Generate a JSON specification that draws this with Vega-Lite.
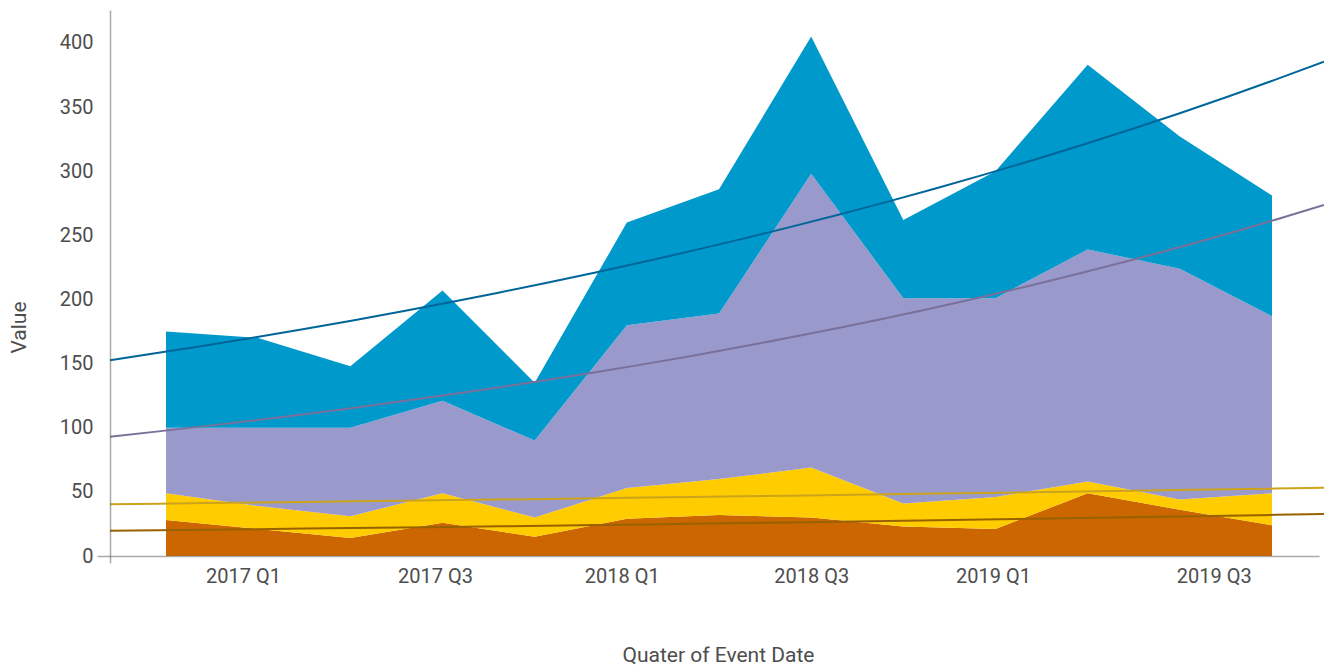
{
  "$schema": "https://vega.github.io/schema/vega-lite/v6.json",
  "width": 1209,
  "height": 546,
  "autosize": {"type": "none"},
  "padding": {"left": 110, "top": 10, "right": 5, "bottom": 116},
  "background": "white",
  "config": {
    "view": {"stroke": null},
    "font": "Roboto",
    "axis": {
      "labelFont": "Roboto",
      "titleFont": "Roboto",
      "labelFontSize": 20,
      "titleFontSize": 21,
      "labelColor": "#4d4d4d",
      "titleColor": "#4d4d4d",
      "titleFontWeight": "normal",
      "grid": false
    }
  },
  "data": {
    "values": [
      {"q": 0, "quarter": "2016 Q4", "series": "S1", "value": 28},
      {"q": 1, "quarter": "2017 Q1", "series": "S1", "value": 21},
      {"q": 2, "quarter": "2017 Q2", "series": "S1", "value": 14},
      {"q": 3, "quarter": "2017 Q3", "series": "S1", "value": 26},
      {"q": 4, "quarter": "2017 Q4", "series": "S1", "value": 15},
      {"q": 5, "quarter": "2018 Q1", "series": "S1", "value": 29},
      {"q": 6, "quarter": "2018 Q2", "series": "S1", "value": 32},
      {"q": 7, "quarter": "2018 Q3", "series": "S1", "value": 30},
      {"q": 8, "quarter": "2018 Q4", "series": "S1", "value": 23},
      {"q": 9, "quarter": "2019 Q1", "series": "S1", "value": 21},
      {"q": 10, "quarter": "2019 Q2", "series": "S1", "value": 49},
      {"q": 11, "quarter": "2019 Q3", "series": "S1", "value": 36},
      {"q": 12, "quarter": "2019 Q4", "series": "S1", "value": 24},
      {"q": 0, "quarter": "2016 Q4", "series": "S2", "value": 21},
      {"q": 1, "quarter": "2017 Q1", "series": "S2", "value": 18},
      {"q": 2, "quarter": "2017 Q2", "series": "S2", "value": 17},
      {"q": 3, "quarter": "2017 Q3", "series": "S2", "value": 23},
      {"q": 4, "quarter": "2017 Q4", "series": "S2", "value": 15},
      {"q": 5, "quarter": "2018 Q1", "series": "S2", "value": 24},
      {"q": 6, "quarter": "2018 Q2", "series": "S2", "value": 28},
      {"q": 7, "quarter": "2018 Q3", "series": "S2", "value": 39},
      {"q": 8, "quarter": "2018 Q4", "series": "S2", "value": 18},
      {"q": 9, "quarter": "2019 Q1", "series": "S2", "value": 25},
      {"q": 10, "quarter": "2019 Q2", "series": "S2", "value": 9},
      {"q": 11, "quarter": "2019 Q3", "series": "S2", "value": 8},
      {"q": 12, "quarter": "2019 Q4", "series": "S2", "value": 25},
      {"q": 0, "quarter": "2016 Q4", "series": "S3", "value": 51},
      {"q": 1, "quarter": "2017 Q1", "series": "S3", "value": 61},
      {"q": 2, "quarter": "2017 Q2", "series": "S3", "value": 69},
      {"q": 3, "quarter": "2017 Q3", "series": "S3", "value": 72},
      {"q": 4, "quarter": "2017 Q4", "series": "S3", "value": 60},
      {"q": 5, "quarter": "2018 Q1", "series": "S3", "value": 127},
      {"q": 6, "quarter": "2018 Q2", "series": "S3", "value": 129},
      {"q": 7, "quarter": "2018 Q3", "series": "S3", "value": 229},
      {"q": 8, "quarter": "2018 Q4", "series": "S3", "value": 160},
      {"q": 9, "quarter": "2019 Q1", "series": "S3", "value": 155},
      {"q": 10, "quarter": "2019 Q2", "series": "S3", "value": 181},
      {"q": 11, "quarter": "2019 Q3", "series": "S3", "value": 180},
      {"q": 12, "quarter": "2019 Q4", "series": "S3", "value": 138},
      {"q": 0, "quarter": "2016 Q4", "series": "S4", "value": 75},
      {"q": 1, "quarter": "2017 Q1", "series": "S4", "value": 70},
      {"q": 2, "quarter": "2017 Q2", "series": "S4", "value": 48},
      {"q": 3, "quarter": "2017 Q3", "series": "S4", "value": 86},
      {"q": 4, "quarter": "2017 Q4", "series": "S4", "value": 45},
      {"q": 5, "quarter": "2018 Q1", "series": "S4", "value": 80},
      {"q": 6, "quarter": "2018 Q2", "series": "S4", "value": 97},
      {"q": 7, "quarter": "2018 Q3", "series": "S4", "value": 107},
      {"q": 8, "quarter": "2018 Q4", "series": "S4", "value": 61},
      {"q": 9, "quarter": "2019 Q1", "series": "S4", "value": 99},
      {"q": 10, "quarter": "2019 Q2", "series": "S4", "value": 144},
      {"q": 11, "quarter": "2019 Q3", "series": "S4", "value": 103},
      {"q": 12, "quarter": "2019 Q4", "series": "S4", "value": 94}
    ]
  },
  "transform": [
    {"stack": "value", "groupby": ["q"], "sort": [{"field": "series", "order": "ascending"}], "as": ["v0", "v1"]}
  ],
  "layer": [
    {
      "mark": {"type": "area", "interpolate": "linear"},
      "encoding": {
        "x": {
          "field": "q",
          "type": "quantitative",
          "scale": {"domain": [-0.608, 12.51], "nice": false, "zero": false},
          "axis": {
            "values": [-0.608, 0.835, 2.918, 4.945, 7.0, 8.973, 11.367],
            "labelExpr": "datum.value < 0 ? '' : (2016 + floor((round(datum.value) + 3) / 4)) + ' Q' + ((round(datum.value) + 3) % 4 + 1)",
            "domain": true,
            "domainColor": "#555555",
            "domainOpacity": 0.5,
            "domainWidth": 1.5,
            "ticks": true,
            "tickSize": 7,
            "tickWidth": 1.5,
            "tickOpacity": 0.5,
            "tickColor": {"condition": {"test": "datum.value < 0", "value": "#555555"}, "value": "transparent"},
            "labelPadding": 3,
            "labelFlush": false,
            "labelOverlap": false,
            "title": "Quater of Event Date",
            "titlePadding": 58,
            "titleX": 608,
            "zindex": 1
          }
        },
        "y": {
          "field": "v1",
          "type": "quantitative",
          "scale": {"domain": [0, 425.7], "nice": false},
          "axis": {
            "values": [0, 50, 100, 150, 200, 250, 300, 350, 400],
            "domain": true,
            "domainColor": "#555555",
            "domainOpacity": 0.5,
            "domainWidth": 1.5,
            "ticks": true,
            "tickSize": 13,
            "tickWidth": 1.5,
            "tickOpacity": 0.5,
            "tickColor": {"condition": {"test": "datum.value === 0", "value": "#555555"}, "value": "transparent"},
            "labelPadding": 4,
            "title": "Value",
            "titlePadding": 30,
            "titleY": 317,
            "zindex": 1
          }
        },
        "y2": {"field": "v0"},
        "fill": {
          "field": "series",
          "type": "nominal",
          "scale": {"domain": ["S1", "S2", "S3", "S4"], "range": ["#CC6600", "#FFCC00", "#9999CC", "#0099CC"]},
          "legend": null
        }
      }
    },
    {
      "transform": [
        {"calculate": "log(datum.v1)", "as": "logv"},
        {"regression": "logv", "on": "q", "groupby": ["series"], "method": "poly", "order": 1, "extent": [-0.608, 12.564]},
        {"calculate": "exp(datum.logv)", "as": "trend"}
      ],
      "mark": {"type": "line", "clip": false, "strokeWidth": 2},
      "encoding": {
        "x": {"field": "q", "type": "quantitative"},
        "y": {"field": "trend", "type": "quantitative"},
        "stroke": {
          "field": "series",
          "type": "nominal",
          "scale": {"domain": ["S1", "S2", "S3", "S4"], "range": ["#996200", "#CCA41C", "#7A7099", "#00669A"]},
          "legend": null
        }
      }
    }
  ]
}
